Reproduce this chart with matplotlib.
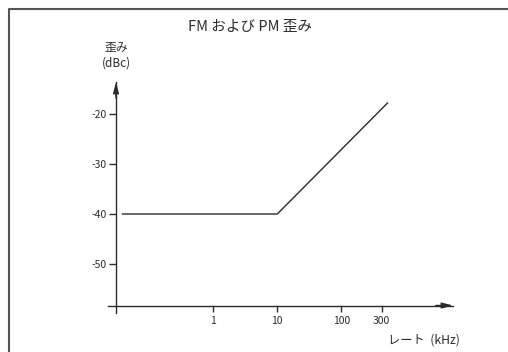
import matplotlib
matplotlib.use("Agg")
import matplotlib.pyplot as plt
from matplotlib.lines import Line2D

plt.rcParams['font.family'] = ['Noto Sans CJK JP', 'DejaVu Sans']

# schematic chart: x in decades relative to 1 kHz (axis is not to true scale)
rate_labels = ['1', '10', '100', '300']
rate_pos = [0, 1, 2, 2.63]
db_ticks = [-20, -30, -40, -50]

curve_x = [-1.43, 1, 2.73]
curve_y = [-40, -40, -17.7]

yaxis_x = -1.52
xaxis_y = -58.3

ink = '#2b2b2b'

fig = plt.figure(figsize=(5.08, 3.52), dpi=100)
ax = fig.add_axes([108 / 508, 1 - 313 / 352, (453 - 108) / 508, (313 - 82) / 352])
ax.set_xlim(-1.645, 3.745)
ax.set_ylim(-59.8, -13.6)

ax.plot(curve_x, curve_y, color=ink, lw=1.0, solid_capstyle='butt')

for s in ['top', 'right']:
    ax.spines[s].set_visible(False)
ax.spines['left'].set_position(('data', yaxis_x))
ax.spines['bottom'].set_position(('data', xaxis_y))
for s in ['left', 'bottom']:
    ax.spines[s].set_color(ink)
    ax.spines[s].set_linewidth(1.0)

ax.set_yticks(db_ticks)
ax.set_yticklabels([str(v) for v in db_ticks])
ax.set_xticks(rate_pos)
ax.set_xticklabels(rate_labels)
ax.tick_params(axis='y', direction='out', length=5, width=1.0, color=ink,
               labelsize=7.5, pad=2, labelcolor=ink)
ax.tick_params(axis='x', direction='out', length=4.5, width=1.0, color=ink,
               labelsize=7.5, pad=3, labelcolor=ink)

# arrow heads
arrow = dict(arrowstyle='-|>,head_length=0.65,head_width=0.17', color=ink,
             lw=1.0, shrinkA=0, shrinkB=0)
ax.annotate('', xy=(1, xaxis_y), xytext=(0.95, xaxis_y),
            xycoords=('axes fraction', 'data'), textcoords=('axes fraction', 'data'),
            arrowprops=arrow)
ax.annotate('', xy=(yaxis_x, 1), xytext=(yaxis_x, 0.93),
            xycoords=('data', 'axes fraction'), textcoords=('data', 'axes fraction'),
            arrowprops=arrow)

fig.text(250 / 508, 1 - 27 / 352, 'FM および PM 歪み', ha='center', va='center',
         fontsize=10.5, color=ink)
fig.text(116 / 508, 1 - 47 / 352, '歪み', ha='center', va='center', fontsize=8.5, color=ink)
fig.text(116 / 508, 1 - 63 / 352, '(dBc)', ha='center', va='center', fontsize=8.5, color=ink)
fig.text(424 / 508, 1 - 340 / 352, 'レート  (kHz)', ha='center', va='center',
         fontsize=8.8, color=ink)

# frame (left and top edges only)
fig.add_artist(Line2D([9 / 508, 9 / 508, 1], [0, 1 - 9 / 352, 1 - 9 / 352],
                      transform=fig.transFigure, color='#555555', lw=1.5))

fig.savefig('out.png', dpi=100)
